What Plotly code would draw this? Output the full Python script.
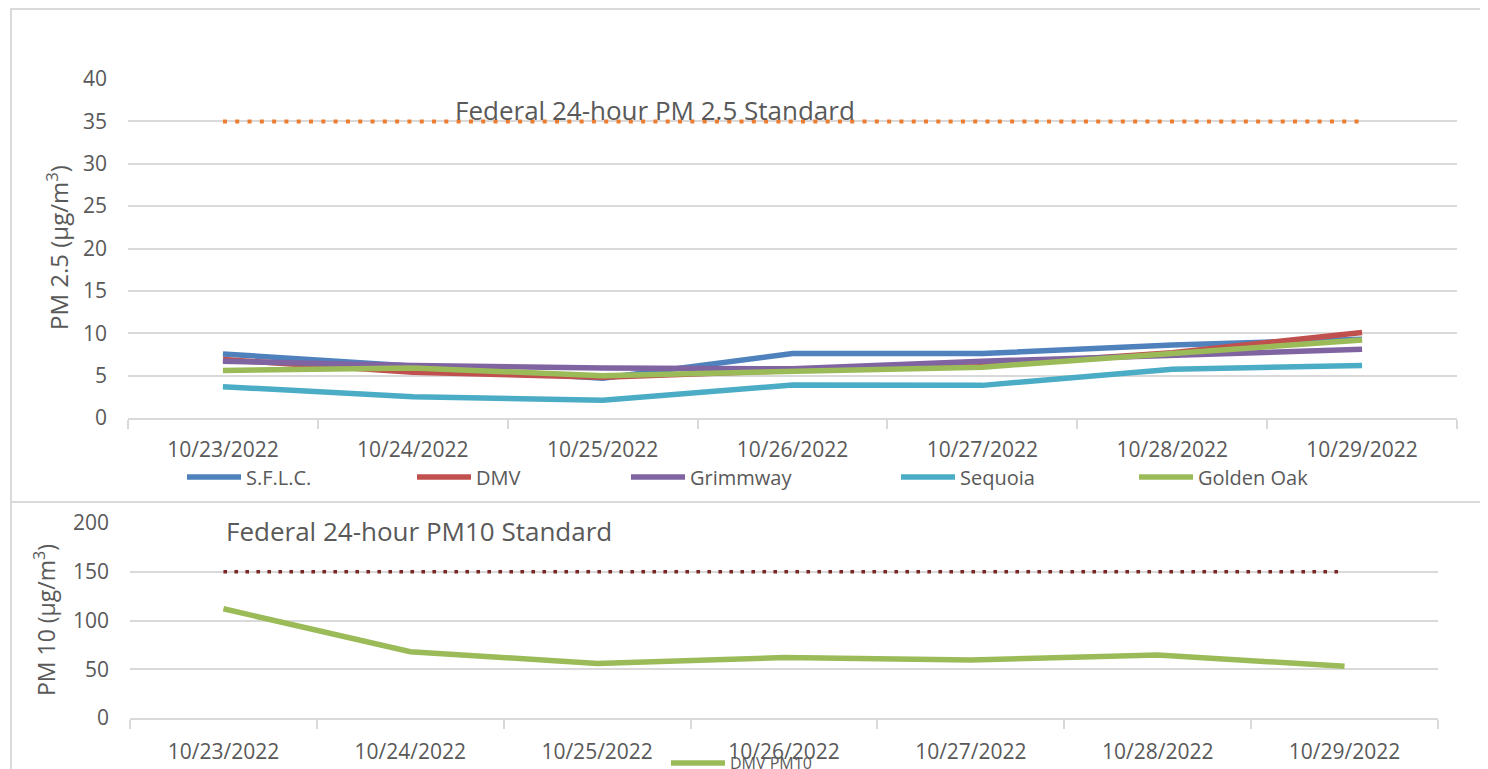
import plotly.graph_objects as go

W, H = 1488, 769

dates = ["10/23/2022", "10/24/2022", "10/25/2022", "10/26/2022",
         "10/27/2022", "10/28/2022", "10/29/2022"]

sflc = [7.55, 6.2, 4.7, 7.6, 7.6, 8.6, 9.3]
dmv = [6.9, 5.4, 4.8, 5.6, 6.2, 7.7, 10.1]
grimmway = [6.7, 6.2, 5.9, 5.8, 6.7, 7.4, 8.1]
sequoia = [3.7, 2.5, 2.1, 3.9, 3.85, 5.75, 6.2]
golden_oak = [5.6, 5.9, 5.0, 5.5, 6.0, 7.6, 9.2]
pm25_standard = [35] * 7

dmv_pm10 = [112, 68, 56, 62, 59.5, 64.5, 53]
pm10_standard = [150] * 7

FONT = "Open Sans"
TXT = "#595959"
GRID = "#D9D9D9"
OFF = 8  # page body margin offset

def px_x(p):
    return (p - OFF) / W

def px_y(p):
    return (H - (p - OFF)) / H

fig = go.Figure()

series = [
    ("S.F.L.C.", sflc, "#4F81BD", "legend"),
    ("DMV", dmv, "#C0504D", "legend2"),
    ("Grimmway", grimmway, "#8064A2", "legend3"),
    ("Sequoia", sequoia, "#4BACC6", "legend4"),
    ("Golden Oak", golden_oak, "#9BBB59", "legend5"),
]

fig.add_trace(go.Scatter(x=dates, y=pm25_standard, mode="lines",
                         line=dict(color="#ED7D31", width=4, dash="4px,8.3px"),
                         showlegend=False, xaxis="x", yaxis="y"))
for name, vals, col, lg in series:
    fig.add_trace(go.Scatter(x=dates, y=vals, mode="lines", name=name,
                             line=dict(color=col, width=5.5),
                             legend=lg, xaxis="x", yaxis="y"))

fig.add_trace(go.Scatter(x=dates, y=pm10_standard, mode="lines",
                         line=dict(color="#7B2525", width=3.6, dash="3.6px,7.4px"),
                         showlegend=False, xaxis="x2", yaxis="y2"))
fig.add_trace(go.Scatter(x=dates, y=dmv_pm10, mode="lines", name="DMV PM10",
                         line=dict(color="#9BBB59", width=5.5),
                         legend="legend6", xaxis="x2", yaxis="y2"))

xcommon = dict(type="category", range=[-0.5, 6.5], tickson="boundaries",
               ticks="outside", ticklen=9, tickwidth=1.5, tickcolor=GRID,
               showline=True, linecolor=GRID, linewidth=2, showgrid=False,
               zeroline=False, tickfont=dict(family=FONT, size=21, color=TXT),
               fixedrange=True)

leg_common = dict(orientation="h", bgcolor="rgba(0,0,0,0)", itemwidth=54,
                  font=dict(family=FONT, size=20, color=TXT),
                  xanchor="left", yanchor="middle", borderwidth=0,
                  itemclick=False)

leg_x = [188, 418, 632, 902, 1140]
legends = {}
for i, lx in enumerate(leg_x):
    key = "legend" if i == 0 else f"legend{i+1}"
    legends[key] = dict(leg_common, x=px_x(lx - 6), y=px_y(477))
legends["legend6"] = dict(leg_common, x=px_x(671 - 5), y=px_y(763),
                          font=dict(family=FONT, size=16, color=TXT))

fig.update_layout(
    width=W, height=H,
    margin=dict(l=0, r=0, t=0, b=0, autoexpand=False),
    paper_bgcolor="white", plot_bgcolor="white",
    xaxis=dict(xcommon, domain=[px_x(128), px_x(1457)], anchor="y",
               ticklabelstandoff=12),
    yaxis=dict(domain=[px_y(418), px_y(79)], range=[0, 40], dtick=5,
               showgrid=True, gridcolor=GRID, gridwidth=2, zeroline=False,
               ticks="", tickfont=dict(family=FONT, size=21, color=TXT),
               ticklabelstandoff=20, anchor="x", fixedrange=True),
    xaxis2=dict(xcommon, domain=[px_x(130), px_x(1438)], anchor="y2",
                ticklabelstandoff=14),
    yaxis2=dict(domain=[px_y(718), px_y(523)], range=[0, 200], dtick=50,
                showgrid=True, gridcolor=GRID, gridwidth=2, zeroline=False,
                ticks="", tickfont=dict(family=FONT, size=21, color=TXT),
                ticklabelstandoff=20, anchor="x2", fixedrange=True),
    shapes=[
        dict(type="rect", xref="paper", yref="paper",
             x0=px_x(11), x1=px_x(1482), y0=px_y(502), y1=px_y(9),
             line=dict(color=GRID, width=2), fillcolor="rgba(0,0,0,0)"),
        dict(type="rect", xref="paper", yref="paper",
             x0=px_x(11), x1=px_x(1482), y0=px_y(800), y1=px_y(502),
             line=dict(color=GRID, width=2), fillcolor="rgba(0,0,0,0)"),
    ],
    annotations=[
        dict(text="Federal 24-hour PM 2.5 Standard", xref="paper", yref="paper",
             x=px_x(453), y=px_y(110), xanchor="left", yanchor="middle",
             showarrow=False, font=dict(family=FONT, size=26, color=TXT)),
        dict(text="Federal 24-hour PM10 Standard", xref="paper", yref="paper",
             x=px_x(224), y=px_y(531), xanchor="left", yanchor="middle",
             showarrow=False, font=dict(family=FONT, size=26, color=TXT)),
        dict(text="PM 2.5 (µg/m<sup>3</sup>)", xref="paper", yref="paper",
             x=px_x(57), y=px_y(248), xanchor="center", yanchor="middle",
             textangle=-90, showarrow=False,
             font=dict(family=FONT, size=24, color=TXT)),
        dict(text="PM 10 (µg/m<sup>3</sup>)", xref="paper", yref="paper",
             x=px_x(45), y=px_y(620), xanchor="center", yanchor="middle",
             textangle=-90, showarrow=False,
             font=dict(family=FONT, size=23, color=TXT)),
    ],
    **legends,
)

fig.write_html("out.html", config={"displayModeBar": False})
